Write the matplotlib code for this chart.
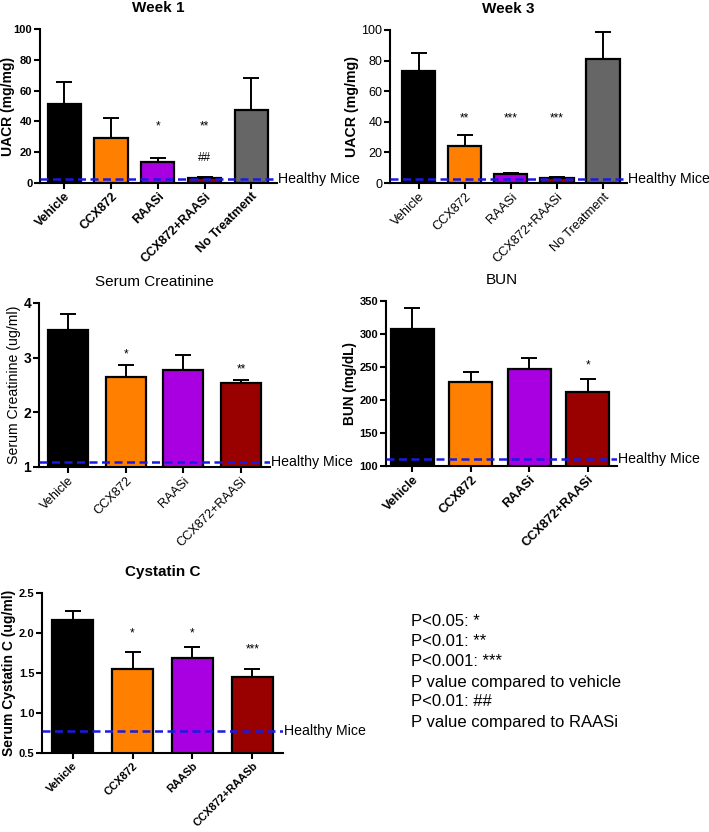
import matplotlib
matplotlib.use("Agg")
import matplotlib.pyplot as plt
import numpy as np

plt.rcParams['font.family'] = ['Liberation Sans', 'DejaVu Sans']

# ---------------- data ----------------
groups_uacr = ["Vehicle", "CCX872", "RAASi", "CCX872+RAASi", "No Treatment"]
groups_4 = ["Vehicle", "CCX872", "RAASi", "CCX872+RAASi"]
groups_cys = ["Vehicle", "CCX872", "RAASb", "CCX872+RAASb"]

week1_mean = [51, 29, 13.5, 3.5, 47.5]
week1_err = [14.5, 13, 2.5, 0.6, 21]
week1_marks = ["", "", "*", "**", ""]
week1_mark_y = [0, 0, 37, 37, 0]
week1_marks2 = ["", "", "", "##", ""]
week1_mark2_y = [0, 0, 0, 16, 0]

week3_mean = [73.5, 24.5, 6, 3, 81]
week3_err = [11.5, 7, 0.6, 0.6, 17.5]
week3_marks = ["", "**", "***", "***", ""]
week3_mark_y = [0, 42, 42, 42, 0]

creat_mean = [3.5, 2.65, 2.78, 2.53]
creat_err = [0.3, 0.22, 0.27, 0.07]
creat_marks = ["", "*", "", "**"]
creat_mark_y = [0, 3.05, 0, 2.78]

bun_mean = [307, 228, 247, 212]
bun_err = [33, 15, 16, 20]
bun_marks = ["", "", "", "*"]
bun_mark_y = [0, 0, 0, 252]

cys_mean = [2.16, 1.55, 1.69, 1.45]
cys_err = [0.11, 0.21, 0.13, 0.10]
cys_marks = ["", "*", "*", "***"]
cys_mark_y = [0, 2.0, 2.0, 1.8]

healthy = {"week1": 2.5, "week3": 2.5, "creat": 1.09, "bun": 111, "cys": 0.78}

colors5 = ["#000000", "#FF8000", "#A800E0", "#990000", "#666666"]
colors4 = colors5[:4]

legend_lines = ["P<0.05: *", "P<0.01: **", "P<0.001: ***",
                "P value compared to vehicle", "P<0.01: ##",
                "P value compared to RAASi"]

# ---------------- figure ----------------
W, H = 709, 832
fig = plt.figure(figsize=(W / 100, H / 100), dpi=100)


def px_axes(l, r, t, b):
    return fig.add_axes([l / W, 1 - b / H, (r - l) / W, (b - t) / H])


def panel(ax, cats, means, errs, colors, ylim, yticks, ylabel, title,
          hline, xlim, width, marks, mark_y, xbold=True, xsize=9,
          ybold=True, ysize=8, ylabelbold=True, ylabelsize=10,
          titlebold=True, yfmt=None, marks2=None, mark2_y=None):
    x = np.arange(len(cats))
    ax.bar(x, means, width=width, color=colors, edgecolor="black",
           linewidth=1.6, zorder=2)
    ax.errorbar(x, means, yerr=[np.zeros(len(errs)), errs], fmt="none",
                ecolor="black", elinewidth=1.4, capsize=5.5, capthick=1.4,
                zorder=1)
    ax.axhline(hline, color="#1a1ae6", ls=(0, (3.2, 1.8)), lw=1.8, zorder=3)
    ax.annotate("Healthy Mice", xy=(1.0, hline),
                xycoords=ax.get_yaxis_transform(),
                xytext=(1.0, 0), textcoords="offset points",
                fontsize=10.2, va="center", ha="left", annotation_clip=False)
    ax.set_xlim(*xlim)
    ax.set_ylim(*ylim)
    ax.set_yticks(yticks)
    if yfmt:
        ax.set_yticklabels([yfmt.format(v) for v in yticks])
    ax.set_xticks(x)
    ax.set_xticklabels(cats, rotation=45, ha="right", rotation_mode="anchor",
                       fontsize=xsize,
                       fontweight="bold" if xbold else "normal")
    for lab in ax.get_yticklabels():
        lab.set_fontsize(ysize)
        lab.set_fontweight("bold" if ybold else "normal")
    ax.set_ylabel(ylabel, fontsize=ylabelsize,
                  fontweight="bold" if ylabelbold else "normal", labelpad=2)
    ax.set_title(title, fontsize=11,
                 fontweight="bold" if titlebold else "normal", pad=12)
    for s in ["top", "right"]:
        ax.spines[s].set_visible(False)
    for s in ["left", "bottom"]:
        ax.spines[s].set_linewidth(1.5)
    ax.tick_params(axis="both", width=1.5, length=4, pad=1.5)
    for xi, m, y in zip(x, marks, mark_y):
        if m:
            ax.text(xi, y, m, ha="center", va="center", fontsize=8.5)
    if marks2:
        for xi, m, y in zip(x, marks2, mark2_y):
            if m:
                ax.text(xi, y, m, ha="center", va="center", fontsize=8.5)


ax1 = px_axes(40, 277, 29, 183)
panel(ax1, groups_uacr, week1_mean, week1_err, colors5, (0, 100),
      [0, 20, 40, 60, 80, 100], "UACR (mg/mg)", "Week 1", healthy["week1"],
      (-0.52, 4.55), 0.71, week1_marks, week1_mark_y, ylabelsize=10,
      marks2=week1_marks2, mark2_y=week1_mark2_y)
ax1.yaxis.set_label_coords((15 - 40) / 237, 0.5)

ax2 = px_axes(390, 627, 30, 183)
panel(ax2, groups_uacr, week3_mean, week3_err, colors5, (0, 100),
      [0, 20, 40, 60, 80, 100], "UACR (mg/mg)", "Week 3", healthy["week3"],
      (-0.62, 4.52), 0.72, week3_marks, week3_mark_y, xbold=False,
      ybold=False, xsize=9.2, ysize=9, ylabelsize=10.2)

ax3 = px_axes(39, 270, 303, 467)
panel(ax3, groups_4, creat_mean, creat_err, colors4, (1, 4),
      [1, 2, 3, 4], "Serum Creatinine (ug/ml)", "Serum Creatinine",
      healthy["creat"], (-0.5, 3.5), 0.69, creat_marks, creat_mark_y,
      ylabelbold=False, ylabelsize=10.2, titlebold=False,
      xbold=False, xsize=9.2, ysize=10)

ax4 = px_axes(386, 617, 301, 466)
panel(ax4, groups_4, bun_mean, bun_err, colors4, (100, 350),
      [100, 150, 200, 250, 300, 350], "BUN (mg/dL)", "BUN",
      healthy["bun"], (-0.45, 3.5), 0.74, bun_marks, bun_mark_y,
      titlebold=False, ylabelsize=9.8, xsize=9.2, ysize=8)

ax5 = px_axes(42, 283, 593, 753)
panel(ax5, groups_cys, cys_mean, cys_err, colors4, (0.5, 2.5),
      [0.5, 1.0, 1.5, 2.0, 2.5], "Serum Cystatin C (ug/ml)", "Cystatin C",
      healthy["cys"], (-0.51, 3.51), 0.68, cys_marks, cys_mark_y,
      yfmt="{:.1f}", ylabelsize=10, xsize=7.9, ysize=8)

for i, line in enumerate(legend_lines):
    fig.text(411 / W, 1 - (622 + 20 * i) / H, line, fontsize=12,
             ha="left", va="center")

fig.savefig("out.png", dpi=100)
